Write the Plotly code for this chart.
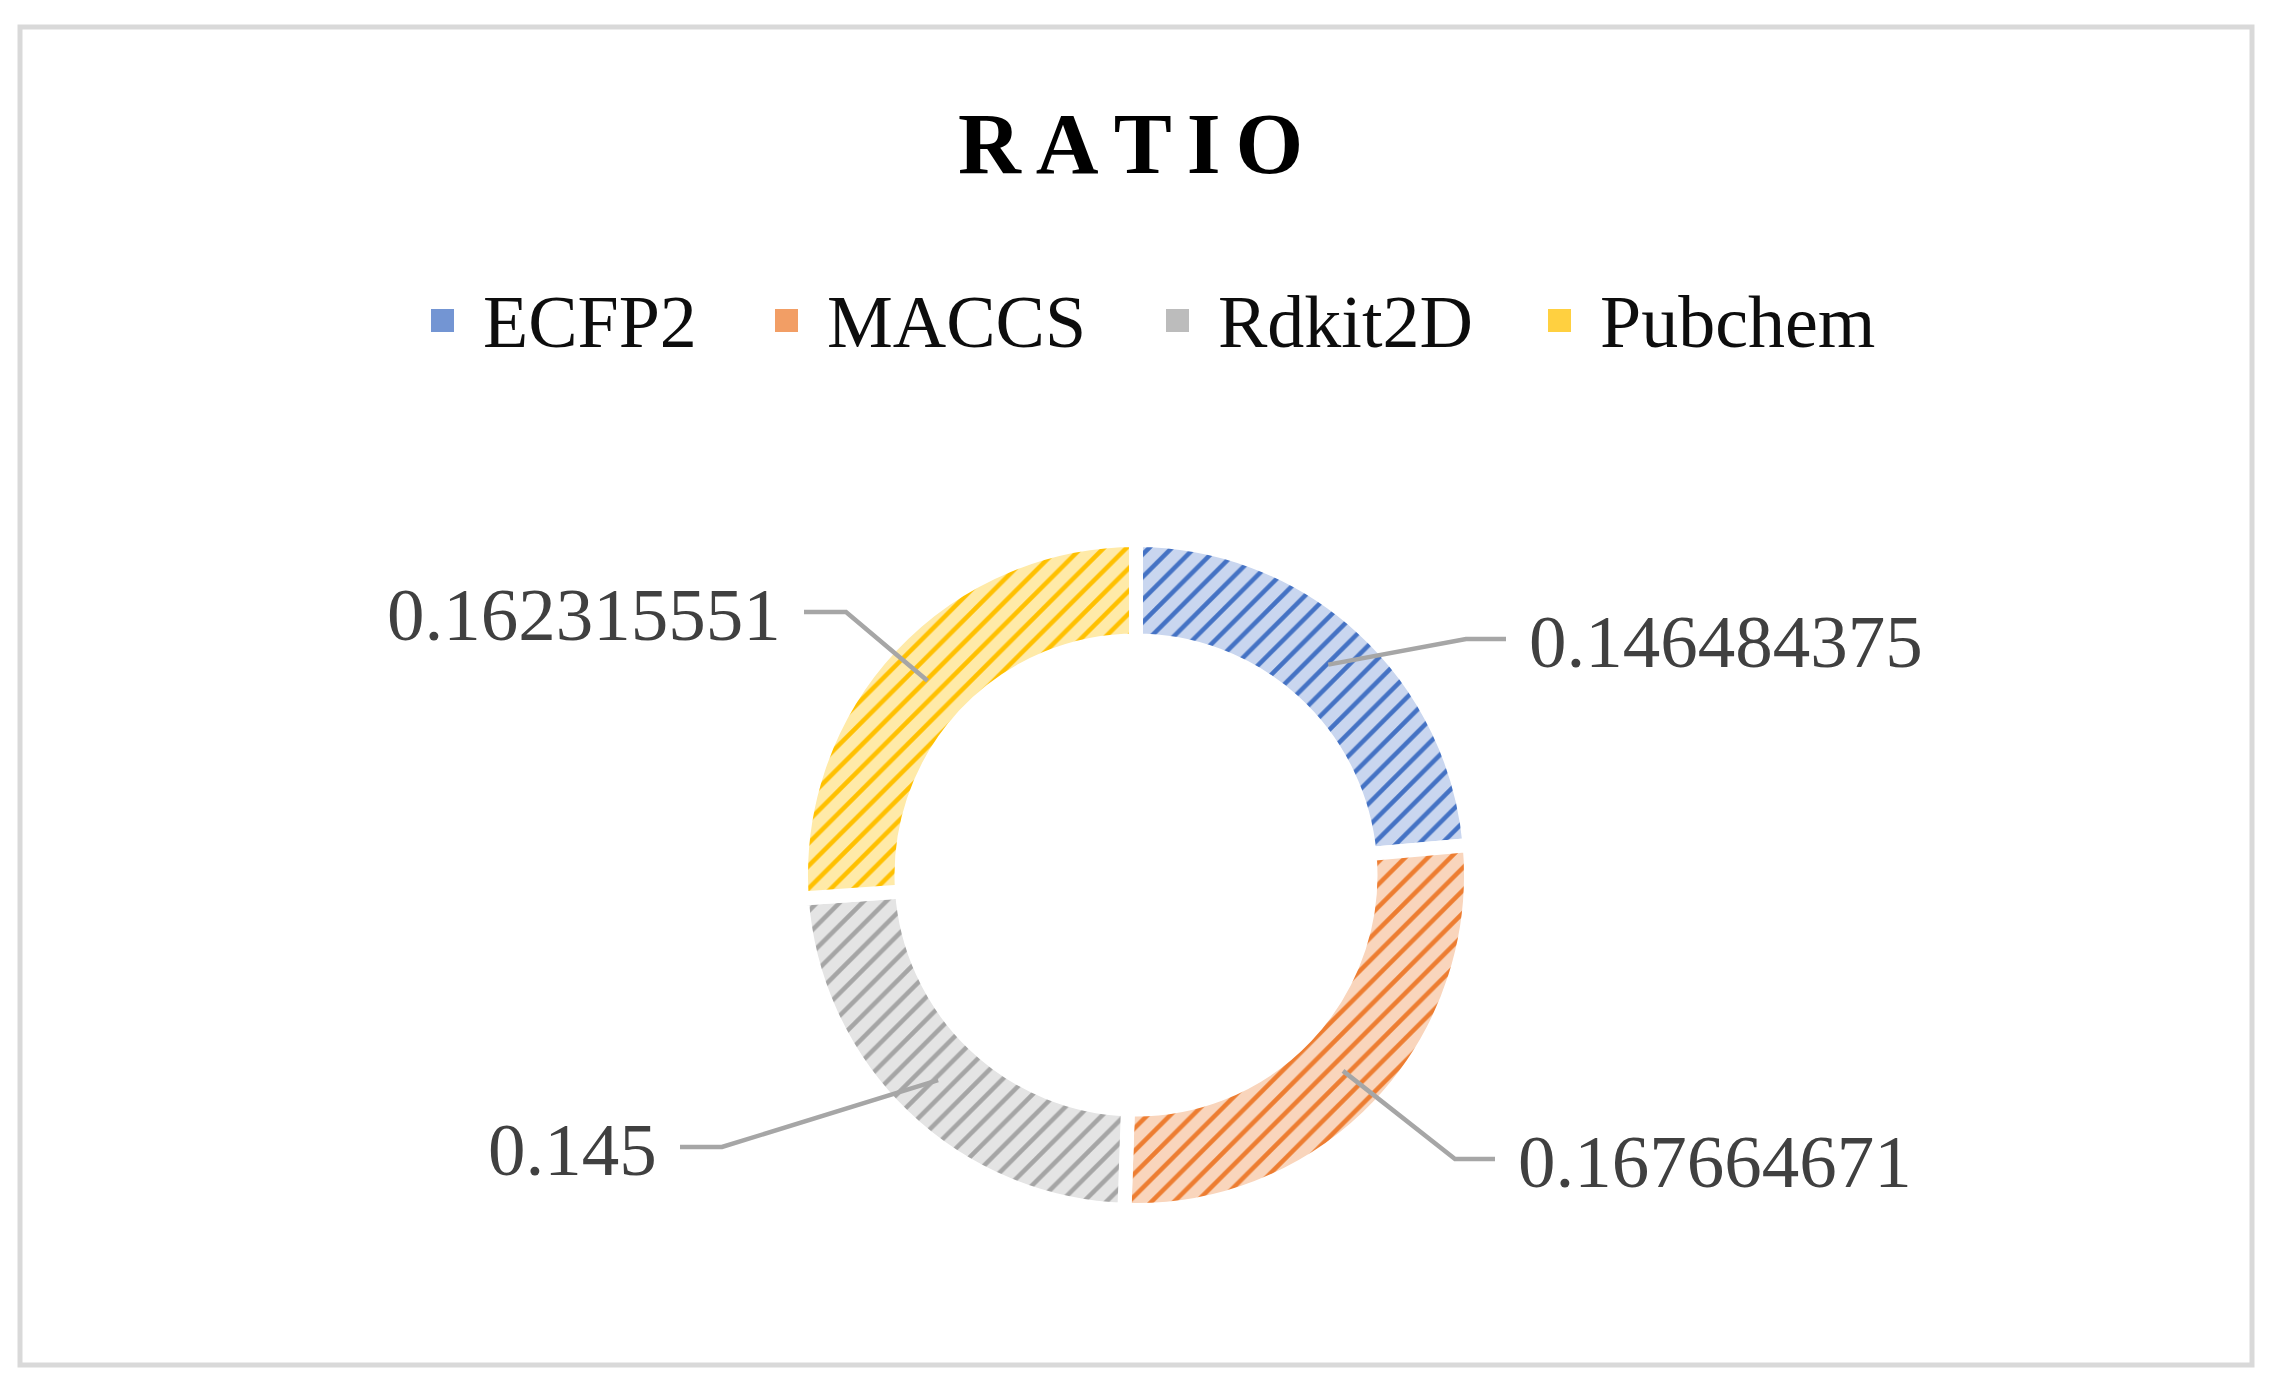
import math
import plotly.graph_objects as go

W, H = 2273, 1385

# data
fingerprints = ["ECFP2", "MACCS", "Rdkit2D", "Pubchem"]
ratios = [0.146484375, 0.167664671, 0.145, 0.162315551]
ratio_text = ["0.146484375", "0.167664671", "0.145", "0.162315551"]

# styling
main_colors = ["#4472C4", "#ED7D31", "#A5A5A5", "#FFC000"]
light_colors = ["#C9D6EF", "#F9D5BC", "#E4E4E4", "#FFEAA8"]
label_color = "#404040"
leader_color = "#A6A6A6"
serif = "Liberation Serif, Times New Roman, serif"

# donut geometry (pixels)
cx, cy = 1136, 875
r_out = 335
ring_mid = 285

# where Excel parked each label: (elbow x, elbow y, side)
label_spots = [(1466, 639, "right"), (1455, 1159, "right"),
               (722, 1147, "left"), (846, 612, "left")]
# legend entries, left edge of each swatch
legend_x = [431, 775, 1166, 1548]
legend_y = 320


def px(x):
    return x / W


def py(y):
    return 1 - y / H


fig = go.Figure()

fig.add_trace(go.Pie(
    labels=fingerprints,
    values=ratios,
    sort=False,
    direction="clockwise",
    rotation=0,
    hole=0.70,
    textinfo="none",
    showlegend=False,
    marker=dict(
        colors=light_colors,
        line=dict(color="white", width=14),
        pattern=dict(shape="/", fgcolor=main_colors, bgcolor=light_colors,
                     size=16, solidity=0.28, fillmode="replace"),
    ),
    domain=dict(x=[px(cx - r_out), px(cx + r_out)],
                y=[py(cy + r_out), py(cy - r_out)]),
))

# leader lines + value labels
total = sum(ratios)
start = 0
shapes = []
annotations = []
for val, txt, (ex, ey, side) in zip(ratios, ratio_text, label_spots):
    mid = (start + val / 2) / total * 2 * math.pi
    start += val
    sx = cx + ring_mid * math.sin(mid)
    sy = cy - ring_mid * math.cos(mid)
    tail = ex + 40 if side == "right" else ex - 42
    path = f"M {px(sx)},{py(sy)} L {px(ex)},{py(ey)} L {px(tail)},{py(ey)}"
    shapes.append(dict(type="path", xref="paper", yref="paper", path=path,
                       line=dict(color=leader_color, width=4.5)))
    annotations.append(dict(
        x=px(tail + 21 if side == "right" else tail - 21), y=py(ey + 2),
        xref="paper", yref="paper", text=txt, showarrow=False,
        xanchor="left" if side == "right" else "right", yanchor="middle",
        font=dict(family=serif, size=75, color=label_color),
    ))

# legend drawn by hand so the spacing matches Excel
for name, col, lx in zip(fingerprints, main_colors, legend_x):
    shapes.append(dict(type="rect", xref="paper", yref="paper",
                       x0=px(lx), x1=px(lx + 23), y0=py(legend_y + 12), y1=py(legend_y - 11),
                       fillcolor=col, opacity=0.75, line=dict(width=0)))
    annotations.append(dict(
        x=px(lx + 50), y=py(legend_y + 2), xref="paper", yref="paper",
        text=name, showarrow=False, xanchor="left", yanchor="middle",
        font=dict(family=serif, size=74, color="#0D0D0D"),
    ))

# chart frame
shapes.append(dict(type="rect", xref="paper", yref="paper",
                   x0=px(20), x1=px(2252), y0=py(27), y1=py(1365),
                   line=dict(color="#D9D9D9", width=5)))

sp = "<span style='font-size:60px'> </span>"
annotations.append(dict(
    x=px(1130), y=py(143), xref="paper", yref="paper", showarrow=False,
    text="<b>" + sp.join("RATIO") + "</b>",
    xanchor="center", yanchor="middle",
    font=dict(family=serif, size=87, color="black"),
))

fig.update_layout(
    width=W, height=H,
    margin=dict(l=0, r=0, t=0, b=0),
    paper_bgcolor="white",
    plot_bgcolor="white",
    shapes=shapes,
    annotations=annotations,
    showlegend=False,
)

fig.write_html("out.html", config={"displayModeBar": False},
               post_script="document.body.style.margin='0';")
